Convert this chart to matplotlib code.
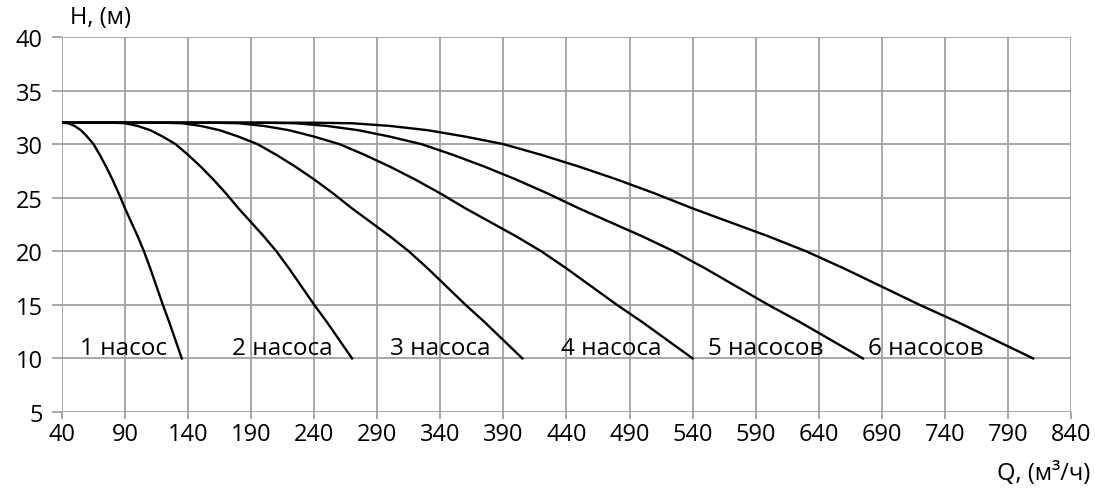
import matplotlib.pyplot as plt
import numpy as np

plt.rcParams['font.family'] = ['Open Sans', 'DejaVu Sans']

# head levels (m) shared by all curves
head = [32, 32, 31.95, 31.7, 31.3, 30.7, 30.0, 29.0, 27.9, 26.7, 25.4,
        24.0, 22.7, 21.4, 20.0, 18.4, 16.7, 15.0, 13.4, 11.7, 10.0]

# flow (m3/h) at each head level for 1..6 pumps
q1 = [40, 40, 45, 50, 55, 60, 65, 70, 75, 80, 85,
      90, 95, 100, 105, 110, 115, 120, 125, 130, 135]
q2 = [40, 80, 90, 100, 110, 120, 130, 140, 150, 160, 170,
      180, 190, 200, 210, 220, 230, 240, 250, 260, 270]
q3 = [40, 120, 135, 150, 165, 180, 195, 210, 225, 240, 255,
      270, 285, 300, 315, 330, 345, 360, 375, 390, 405]
q4 = [40, 160, 180, 200, 220, 240, 260, 280, 300, 320, 340,
      360, 380, 400, 420, 440, 460, 480, 500, 520, 540]
q5 = [40, 200, 225, 250, 275, 300, 325, 350, 375, 400, 425,
      450, 475, 500, 525, 550, 575, 600, 625, 650, 675]
q6 = [40, 240, 270, 300, 330, 360, 390, 420, 450, 480, 510,
      540, 570, 600, 630, 660, 690, 720, 750, 780, 810]

labels = ['1 насос', '2 насоса', '3 насоса', '4 насоса', '5 насосов', '6 насосов']
label_x = [54, 175, 300, 436, 552, 679]
label_y = 11.0

fig = plt.figure(figsize=(10.95, 4.89), dpi=100)
ax = fig.add_axes([0.0566, 0.1554, 0.9215, 0.7669])

grid_col = '#a0a0a0'
for q in [q1, q2, q3, q4, q5, q6]:
    ax.plot(q, head, color='black', lw=1.7, zorder=3)

for txt, lx in zip(labels, label_x):
    ax.text(lx, label_y, txt, fontsize=17.5, va='center', ha='left', zorder=4)

ax.set_xlim(40, 840)
ax.set_ylim(5, 40)
ax.set_xticks(np.arange(40, 841, 50))
ax.set_yticks(np.arange(5, 41, 5))
ax.grid(True, color=grid_col, lw=1.3)
ax.set_axisbelow(True)
for s in ax.spines.values():
    s.set_visible(False)
ax.tick_params(axis='x', colors=grid_col, length=5, width=1.3, pad=2,
               labelcolor='black', labelsize=17)
ax.tick_params(axis='y', colors=grid_col, length=7, width=1.3, pad=7,
               labelcolor='black', labelsize=17)

fig.text(70 / 1095, 1 - 6 / 489, 'H, (м)', fontsize=17, ha='left', va='top')
fig.text(1090 / 1095, 1 - 486 / 489, 'Q, (м³/ч)', fontsize=17,
         ha='right', va='bottom')

fig.savefig('out.png', dpi=100)
